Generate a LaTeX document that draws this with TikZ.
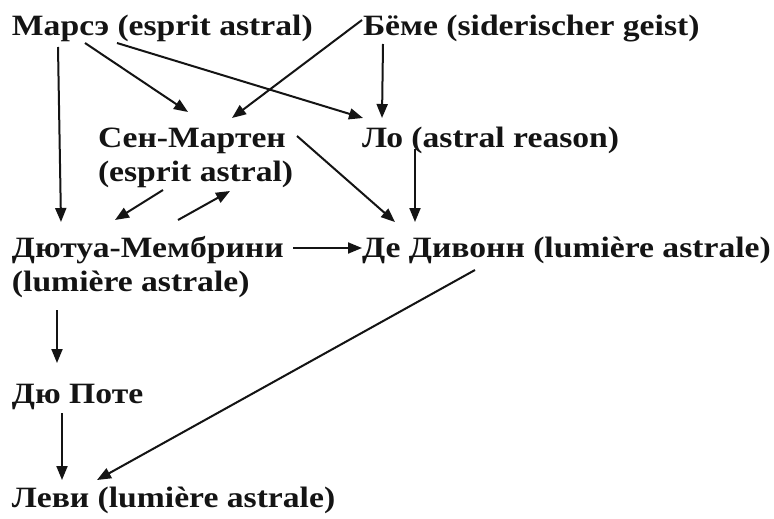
\documentclass[tikz,border=0pt]{standalone}
\usepackage{fontspec}
\setmainfont[FakeStretch=1.14]{Liberation Serif}
\usetikzlibrary{arrows.meta}
\tikzset{
  lbl/.style={anchor=base west, inner sep=0pt, outer sep=0pt, text=black!92,
    font=\bfseries\fontsize{29.5}{34}\selectfont},
  arr/.style={draw=black!92, line width=2pt, -{Triangle[length=14pt,width=11pt]}}
}
\newcommand{\twol}[2]{\begin{tabular}[t]{@{}l@{}}#1\\#2\end{tabular}}
\begin{document}
\begin{tikzpicture}[x=1pt,y=-1pt]
\useasboundingbox[fill=white] (0,0) rectangle (774,519);
\node[lbl] (marse) at (12,36) {Марсэ (esprit astral)};
\node[lbl] (beme) at (363,36) {Бёме (siderischer geist)};
\node[lbl] (sm) at (98,147) {\twol{Сен-Мартен}{(esprit astral)}};
\node[lbl] (lo) at (362,147) {Ло (astral reason)};
\node[lbl] (dm) at (12,257) {\twol{Дютуа-Мембрини}{(lumière astrale)}};
\node[lbl] (dd) at (362,257) {Де Дивонн (lumière astrale)};
\node[lbl] (dp) at (12,403) {Дю Поте};
\node[lbl] (levi) at (12,507) {Леви (lumière astrale)};

\draw[arr] ([shift={(46,11)}]marse.base west) -- ([shift={(49,-35)}]dm.base west);
\draw[arr] ([shift={(73,7)}]marse.base west) -- ([shift={(90,-35)}]sm.base west);
\draw[arr] ([shift={(105,7)}]marse.base west) -- ([shift={(1,-29)}]lo.base west);
\draw[arr] ([shift={(-1,-16)}]beme.base west) -- ([shift={(134,-29)}]sm.base west);
\draw[arr] ([shift={(20,8)}]beme.base west) -- ([shift={(20,-29)}]lo.base west);
\draw[arr] ([shift={(199,-11)}]sm.base west) -- ([shift={(33,-35)}]dd.base west);
\draw[arr] ([shift={(53,2)}]lo.base west) -- ([shift={(53,-35)}]dd.base west);
\draw[arr] ([shift={(65,43)}]sm.base west) -- ([shift={(103,-37)}]dm.base west);
\draw[arr] ([shift={(166,-37)}]dm.base west) -- ([shift={(132,44)}]sm.base west);
\draw[arr] ([shift={(281,-9)}]dm.base west) -- ([shift={(0,-9)}]dd.base west);
\draw[arr] ([shift={(45,53)}]dm.base west) -- ([shift={(45,-40)}]dp.base west);
\draw[arr] ([shift={(50,10)}]dp.base west) -- ([shift={(50,-27)}]levi.base west);
\draw[arr] ([shift={(113,13)}]dd.base west) -- ([shift={(85,-27)}]levi.base west);
\end{tikzpicture}
\end{document}
